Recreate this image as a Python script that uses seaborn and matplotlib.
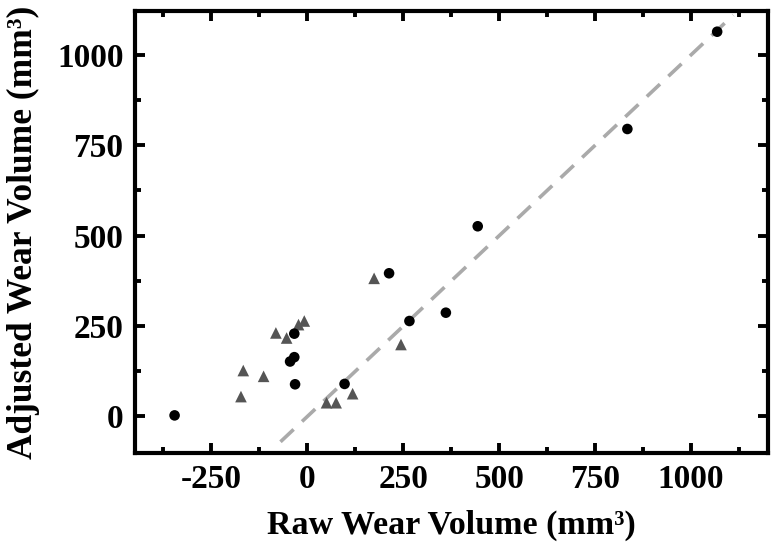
import seaborn as sns
import matplotlib.pyplot as plt
import pandas as pd
from matplotlib.ticker import MultipleLocator

# data
circle_x = [-346, -45, -34, -34, -32, 97, 213, 266, 361, 444, 834, 1068]
circle_y = [3, 152, 164, 229, 89, 90, 396, 264, 287, 526, 795, 1064]
tri_x = [-173, -167, -114, -82, -54, -23, -8, 50, 75, 118, 174, 244]
tri_y = [55, 127, 111, 231, 217, 254, 264, 38, 38, 63, 382, 199]
line_x = [-70, 1110]

sns.set_theme(style='ticks')
plt.rcParams['font.family'] = ['Liberation Serif', 'DejaVu Serif']
plt.rcParams['font.weight'] = 'bold'
plt.rcParams['axes.unicode_minus'] = False
for k in ['text.color', 'axes.labelcolor', 'xtick.color', 'ytick.color']:
    plt.rcParams[k] = 'black'

circles = pd.DataFrame({'x': circle_x, 'y': circle_y})
tris = pd.DataFrame({'x': tri_x, 'y': tri_y})

fig = plt.figure(figsize=(7.74, 5.46), dpi=100)
ax = fig.add_axes([0.174, 0.171, 0.818, 0.808])

ax.plot(line_x, line_x, color='#aaaaaa', lw=2.6, dashes=(5, 3.2), zorder=1)
sns.scatterplot(data=tris, x='x', y='y', marker='^', s=70, color='#555555',
                edgecolor='none', ax=ax, zorder=2)
sns.scatterplot(data=circles, x='x', y='y', marker='o', s=58, color='black',
                edgecolor='none', ax=ax, zorder=3)

ax.set_xlim(-450, 1200)
ax.set_ylim(-100, 1120)
ax.set_xticks([-250, 0, 250, 500, 750, 1000])
ax.set_yticks([0, 250, 500, 750, 1000])
ax.xaxis.set_minor_locator(MultipleLocator(125))
ax.yaxis.set_minor_locator(MultipleLocator(125))
ax.tick_params(which='both', direction='in', top=True, right=True, width=2.8,
               labelsize=24)
ax.tick_params(which='major', length=7.5)
ax.tick_params(which='minor', length=4)
ax.tick_params(axis='x', pad=8)
ax.tick_params(axis='y', pad=8)
for sp in ax.spines.values():
    sp.set_linewidth(3)
    sp.set_color('black')

ax.set_xlabel('Raw Wear Volume (mm³)', fontsize=24.5, fontweight='bold', labelpad=11)
ax.set_ylabel('Adjusted Wear Volume (mm³)', fontsize=25.5, fontweight='bold', labelpad=12)

fig.savefig('out.png', dpi=100)
